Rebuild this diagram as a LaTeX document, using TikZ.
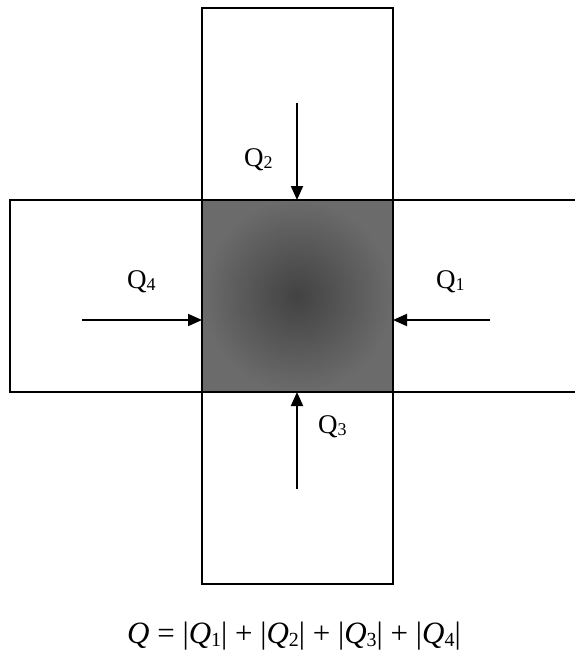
\documentclass[tikz,border=0pt]{standalone}
\usepackage{fontspec}
\setmainfont{Liberation Serif}
\usetikzlibrary{arrows.meta}
\newcommand{\qlab}[1]{Q\raisebox{-2pt}{\fontsize{18}{18}\selectfont #1}}
\newcommand{\qabs}[1]{|\textit{Q}\raisebox{-3pt}{\fontsize{20}{20}\selectfont #1}|}
\tikzset{
  boxline/.style={line width=2.2pt},
  flow/.style={line width=1.9pt,-{Triangle[length=14pt,width=12pt]}},
  qtext/.style={inner sep=0pt,anchor=base west,font=\fontsize{27}{27}\selectfont}
}
\begin{document}
\begin{tikzpicture}[x=1pt,y=-1pt]
\useasboundingbox (0,0) rectangle (574,653);
\fill[white] (0,0) rectangle (574,653);
% shaded centre
\shade[inner color=black!74,outer color=black!58] (202,200) rectangle (393,392);
% vertical strip
\draw[boxline] (202,8) rectangle (393,584);
% horizontal strip (open on the right)
\draw[boxline] (575,200) -- (10,200) -- (10,392) -- (575,392);
% edge points
\coordinate (eT) at (297,200);
\coordinate (eB) at (297,392);
\coordinate (eL) at (202,320);
\coordinate (eR) at (393,320);
\coordinate (sT) at (297,103);
\coordinate (sB) at (297,489);
\coordinate (sL) at (82,320);
\coordinate (sR) at (490,320);
\draw[flow] (sT) -- (eT);
\draw[flow] (sB) -- (eB);
\draw[flow] (sL) -- (eL);
\draw[flow] (sR) -- (eR);
% labels
\node[qtext] (q1) at (436,288) {\qlab{1}};
\node[qtext] (q2) at (244,166) {\qlab{2}};
\node[qtext] (q3) at (318,433) {\qlab{3}};
\node[qtext] (q4) at (127,288) {\qlab{4}};
% formula
\node[inner sep=0pt,anchor=base west,font=\fontsize{31}{31}\selectfont] (f) at (127,643)
  {\textit{Q} = \qabs{1} + \qabs{2} + \qabs{3} + \qabs{4}};
\end{tikzpicture}
\end{document}
